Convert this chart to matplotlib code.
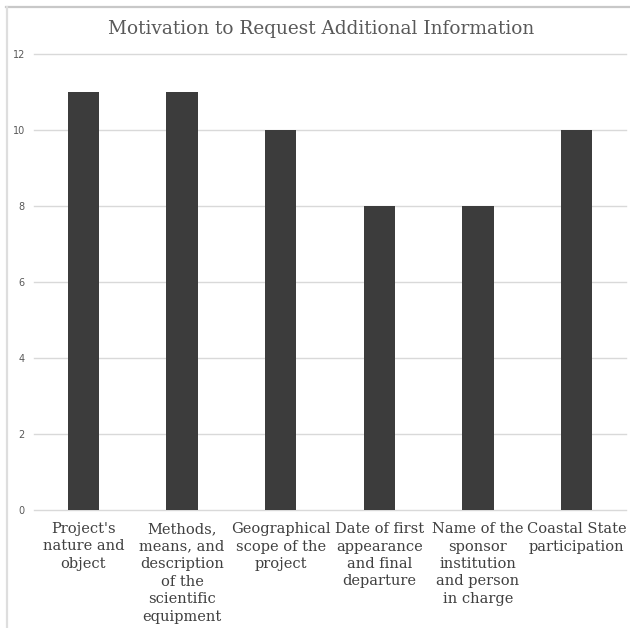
import matplotlib
matplotlib.use("Agg")
import matplotlib.pyplot as plt
from matplotlib.transforms import offset_copy

categories = [
    "Project's\nnature and\nobject",
    "Methods,\nmeans, and\ndescription\nof the\nscientific\nequipment",
    "Geographical\nscope of the\nproject",
    "Date of first\nappearance\nand final\ndeparture",
    "Name of the\nsponsor\ninstitution\nand person\nin charge",
    "Coastal State\nparticipation",
]
counts = [11, 11, 10, 8, 8, 10]
y_ticks = [0, 2, 4, 6, 8, 10, 12]

W, H = 630, 628
fig = plt.figure(figsize=(W / 100, H / 100), dpi=100)
fig.patch.set_facecolor("white")

# chart-area frame (top and left edges only are in view)
fig.add_artist(plt.Line2D([6 / W, 1.0], [1 - 6.5 / H, 1 - 6.5 / H],
                          transform=fig.transFigure, color="#c8c8c8", lw=1.6))
fig.add_artist(plt.Line2D([6.5 / W, 6.5 / W], [0.0, 1 - 6.5 / H],
                          transform=fig.transFigure, color="#dedede", lw=1.6))

ax = fig.add_axes([34 / W, 1 - 510 / H, (626 - 34) / W, (510 - 54) / H])
x = list(range(len(categories)))
ax.bar(x, counts, width=0.32, color="#3c3c3c", zorder=3)
ax.set_xlim(-0.5, len(categories) - 0.5)
ax.set_ylim(0, 12)
ax.set_yticks(y_ticks)
ax.set_yticklabels([str(v) for v in y_ticks], fontsize=7, color="#595959",
                   family="DejaVu Sans")
ax.yaxis.grid(True, color="#d9d9d9", lw=1.0, zorder=0)
for gl in ax.get_ygridlines():
    gl.set_clip_on(False)
ax.tick_params(axis="y", length=0, pad=6.5)
ax.set_xticks([])
for s in ax.spines.values():
    s.set_visible(False)

# category labels, one line at a time so every label starts on the same baseline
base = ax.get_xaxis_transform()
first_px, step_px = 23.0, 17.5
for xi, label in zip(x, categories):
    for i, line in enumerate(label.split("\n")):
        off = (first_px + step_px * i) * 72 / 100
        tr = offset_copy(base, fig=fig, x=0, y=-off, units="points")
        ax.text(xi, 0, line, transform=tr, ha="center", va="baseline",
                fontsize=10.5, color="#404040", family="DejaVu Serif")

fig.text((108 + 535) / 2 / W, 1 - 34 / H, "Motivation to Request Additional Information",
         ha="center", va="baseline", fontsize=13.3, color="#595959",
         family="DejaVu Serif")

fig.savefig("out.png", dpi=100, facecolor="white")
